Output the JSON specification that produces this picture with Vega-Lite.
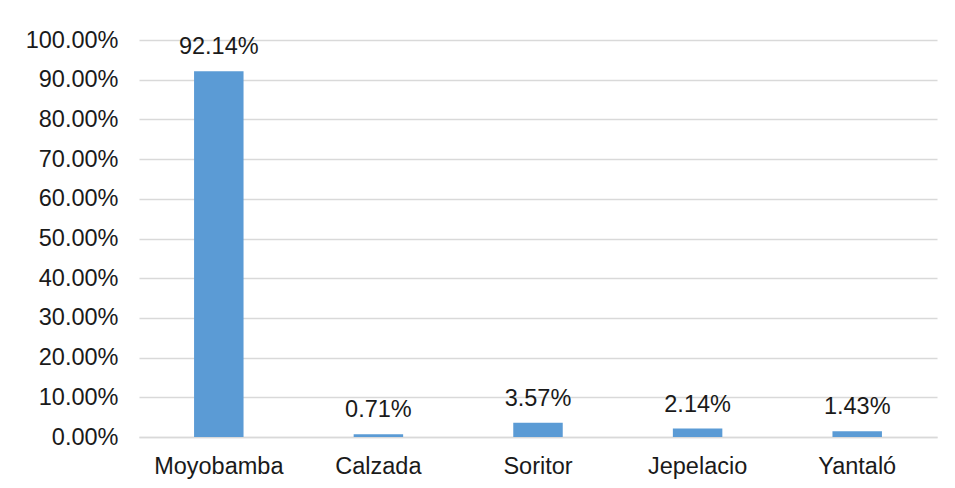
{
  "$schema": "https://vega.github.io/schema/vega-lite/v6.json",
  "autosize": "none",
  "width": 798,
  "height": 397,
  "padding": {"left": 139, "top": 40, "right": 18, "bottom": 51},
  "background": "white",
  "config": {
    "view": {"stroke": null},
    "font": "Liberation Sans"
  },
  "data": {
    "values": [
      {"distrito": "Moyobamba", "pct": 0.9214},
      {"distrito": "Calzada", "pct": 0.0071},
      {"distrito": "Soritor", "pct": 0.0357},
      {"distrito": "Jepelacio", "pct": 0.0214},
      {"distrito": "Yantaló", "pct": 0.0143}
    ]
  },
  "encoding": {
    "x": {
      "field": "distrito",
      "type": "nominal",
      "sort": null,
      "title": null,
      "scale": {"paddingInner": 0.69, "paddingOuter": 0.345},
      "axis": {
        "labelAngle": 0,
        "labelFontSize": 23.5,
        "labelFont": "Liberation Sans",
        "labelColor": "#1a1a1a",
        "labelPadding": 17,
        "ticks": false,
        "tickSize": 0,
        "domainColor": "#D9D9D9",
        "domainWidth": 1.5,
        "grid": false
      }
    },
    "y": {
      "field": "pct",
      "type": "quantitative",
      "title": null,
      "scale": {"domain": [0, 1], "nice": false},
      "axis": {
        "format": ".2%",
        "values": [0, 0.1, 0.2, 0.3, 0.4, 0.5, 0.6, 0.7, 0.8, 0.9, 1.0],
        "labelFontSize": 23.5,
        "labelFont": "Liberation Sans",
        "labelColor": "#1a1a1a",
        "labelPadding": 21,
        "ticks": false,
        "tickSize": 0,
        "domain": false,
        "gridColor": "#D9D9D9",
        "gridWidth": 1.3
      }
    }
  },
  "layer": [
    {"mark": {"type": "bar", "color": "#5B9BD5"}},
    {
      "mark": {"type": "text", "baseline": "alphabetic", "dy": -17, "fontSize": 23.5, "color": "#1a1a1a", "font": "Liberation Sans"},
      "encoding": {"text": {"field": "pct", "type": "quantitative", "format": ".2%"}}
    }
  ]
}
